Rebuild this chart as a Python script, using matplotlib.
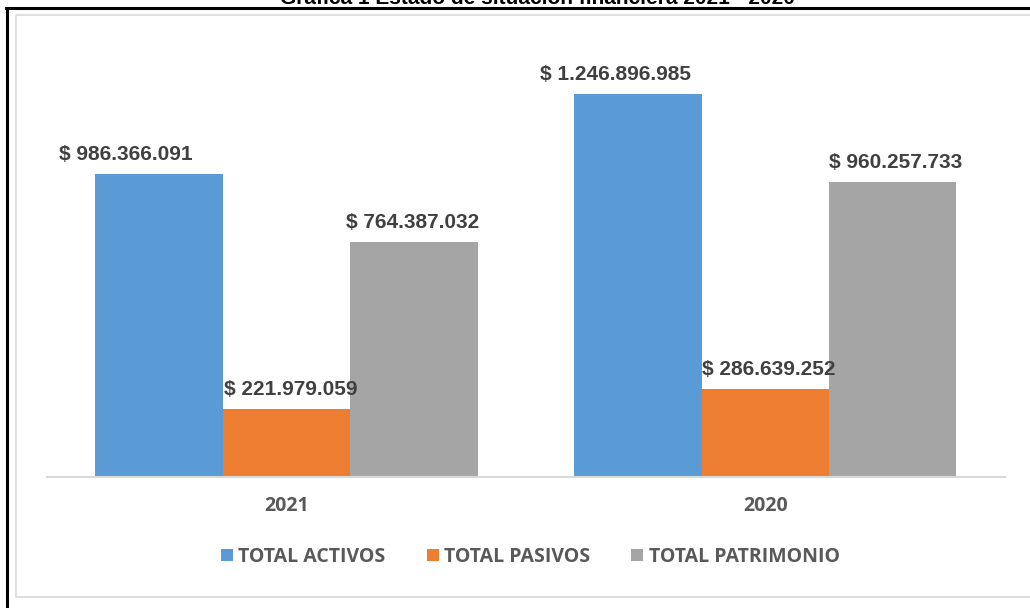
"""Gráfica 1: estado de situación financiera 2021 - 2020, barras agrupadas."""
import matplotlib
matplotlib.use("Agg")
import matplotlib.pyplot as plt
import numpy as np
from matplotlib.lines import Line2D

years = ["2021", "2020"]
series = ["TOTAL ACTIVOS", "TOTAL PASIVOS", "TOTAL PATRIMONIO"]
activos = [986366091, 1246896985]
pasivos = [221979059, 286639252]
patrimonio = [764387032, 960257733]

colors = ["#5B9BD5", "#ED7D31", "#A5A5A5"]
# label nudges in pixels (blue labels sit left of their bars in the original)
label_dx = [[-33, 4, -1], [-22, 3, 3]]

fig = plt.figure(figsize=(10.30, 6.08), dpi=100)
ax = fig.add_axes([0.0456, 0.2155, 0.93, 0.7072])

x = np.arange(len(years))
w = 0.266
values = [activos, pasivos, patrimonio]
for i, (name, vals, c) in enumerate(zip(series, values, colors)):
    bars = ax.bar(x + (i - 1) * w, vals, w, color=c, label=name, zorder=2)
    for j, b in enumerate(bars):
        v = vals[j]
        txt = "$ " + f"{v:,}".replace(",", ".")
        ax.annotate(txt, (b.get_x() + b.get_width() / 2, v),
                    xytext=(label_dx[j][i] * 0.72, 7), textcoords="offset points",
                    ha="center", va="bottom", fontsize=15, fontweight="bold",
                    color="#404040", family="Liberation Sans")

ax.set_xlim(-0.5, 1.5)
ax.set_ylim(0, 1400e6)
ax.set_xticks(x)
ax.set_xticklabels(years, fontsize=14, fontweight="bold", color="#595959",
                   family="Open Sans")
ax.tick_params(axis="x", length=0, pad=14)
ax.set_yticks([])
for s in ["top", "right", "left"]:
    ax.spines[s].set_visible(False)
ax.spines["bottom"].set_color("#D9D9D9")
ax.spines["bottom"].set_linewidth(1.5)

leg = fig.legend(loc="center", bbox_to_anchor=(0.515, 1 - 557 / 608), ncol=3,
                 frameon=False, handlelength=0.62, handleheight=0.62,
                 handletextpad=0.3, columnspacing=2.1,
                 prop={"family": "Open Sans", "weight": "bold", "size": 14})
for t in leg.get_texts():
    t.set_color("#595959")

# outer black frame (left + top) and inner light border; they run off the page
W, H = 1030, 608
fig.add_artist(Line2D([6.5 / W, 6.5 / W], [0, 1 - 8 / H], color="black", lw=2.2,
                      transform=fig.transFigure))
fig.add_artist(Line2D([5.5 / W, 1.0], [1 - 8 / H, 1 - 8 / H], color="black", lw=2.2,
                      transform=fig.transFigure))
fig.add_artist(Line2D([16 / W, 16 / W, 1.0], [1 - 597 / H, 1 - 15 / H, 1 - 15 / H],
                      color="#D9D9D9", lw=1.2, transform=fig.transFigure))
fig.add_artist(Line2D([16 / W, 1.0], [1 - 597 / H, 1 - 597 / H],
                      color="#D9D9D9", lw=1.2, transform=fig.transFigure))

fig.text(0.522, 1 - 4 / H, "Gráfica 1 Estado de situación financiera 2021 - 2020",
         ha="center", va="baseline", fontsize=15, fontweight="bold",
         family="Liberation Sans", color="black")

fig.savefig("out.png", dpi=100)
